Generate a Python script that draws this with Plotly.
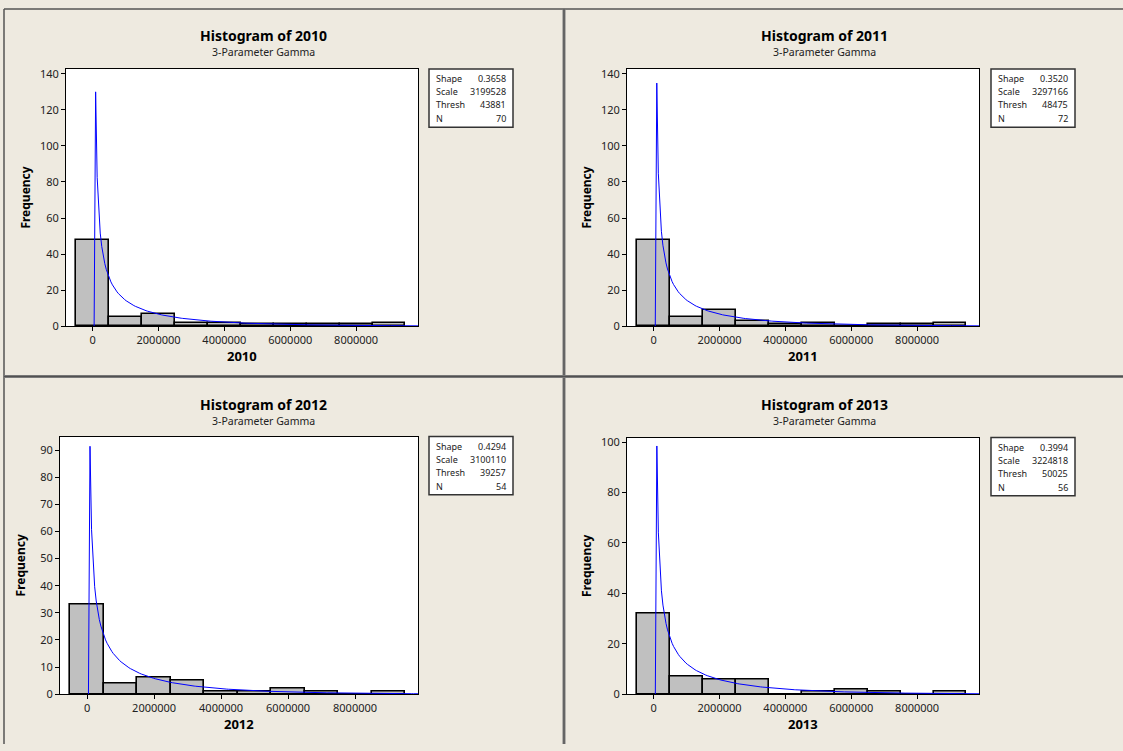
import math
import numpy as np
import plotly.graph_objects as go

W, H = 1123, 751

years = ["2010", "2011", "2012", "2013"]
bin_centers = [0, 1000000, 2000000, 3000000, 4000000, 5000000, 6000000, 7000000, 8000000, 9000000]
bin_width = 1000000
counts_2010 = [48, 5, 7, 2, 2, 1, 1, 1, 1, 2]
counts_2011 = [48, 5, 9, 3, 1, 2, 0, 1, 1, 2]
counts_2012 = [33, 4, 6, 5, 1, 1, 2, 1, 0, 1]
counts_2013 = [32, 7, 6, 6, 0, 1, 2, 1, 0, 1]
counts = [counts_2010, counts_2011, counts_2012, counts_2013]

shape_vals = [0.3658, 0.3520, 0.4294, 0.3994]
scale_vals = [3199528, 3297166, 3100110, 3224818]
thresh_vals = [43881, 48475, 39257, 50025]
n_vals = [70, 72, 54, 56]

y_tick_step = [20, 20, 10, 20]
y_max = [142.6, 142.6, 95.0, 101.8]
x_range = [-810000, 9880000]
x_ticks = [0, 2000000, 4000000, 6000000, 8000000]

# plot-area pixel boxes (left, top, right, bottom)
boxes = [(66, 66, 418, 327), (627, 66, 979, 327), (60, 439, 418, 700.5), (627, 440, 979, 700.5)]
stat_boxes = [(429, 66, 513, 125), (991, 66, 1075, 125), (429, 439, 513, 498), (991, 440, 1075, 499)]
title_xy = [(263, 32), (824, 32), (263, 406), (824, 406)]

BG = "#EEEAE0"
FONT = "Noto Sans"

fig = go.Figure()
shapes = []
annotations = []


def px(x):
    return x / W


def py(y):
    return 1 - y / H


for i, yr in enumerate(years):
    xa = "x" if i == 0 else f"x{i+1}"
    ya = "y" if i == 0 else f"y{i+1}"
    fig.add_trace(go.Bar(
        x=bin_centers, y=counts[i], width=bin_width,
        marker=dict(color="#C0C0C0", line=dict(color="black", width=1.6)),
        xaxis=xa, yaxis=ya, showlegend=False))
    # fitted 3-parameter gamma density scaled to counts
    k, th, t0, n = shape_vals[i], scale_vals[i], thresh_vals[i], n_vals[i]
    xs = np.linspace(t0, x_range[1], 213)
    ys = []
    for xv in xs:
        d = xv - t0
        if d <= 0:
            ys.append(0.0)
        else:
            lp = (k - 1) * math.log(d) - d / th - math.lgamma(k) - k * math.log(th)
            ys.append(n * bin_width * math.exp(lp))
    fig.add_trace(go.Scatter(x=xs, y=ys, mode="lines", line=dict(color="#0000FF", width=1),
                             xaxis=xa, yaxis=ya, showlegend=False, hoverinfo="skip"))

    l, t, r, b = boxes[i]
    axkey = "xaxis" if i == 0 else f"xaxis{i+1}"
    aykey = "yaxis" if i == 0 else f"yaxis{i+1}"
    fig.update_layout(**{
        axkey: dict(domain=[px(l), px(r)], anchor=ya, range=x_range,
                    tickvals=x_ticks, ticktext=[str(v) for v in x_ticks],
                    showgrid=False, zeroline=False, showline=True, linecolor="black",
                    linewidth=1, mirror=True, ticks="outside", ticklen=4, tickcolor="black",
                    tickfont=dict(family=FONT, size=11, color="#222")),
        aykey: dict(domain=[py(b), py(t)], anchor=xa, range=[0, y_max[i]],
                    dtick=y_tick_step[i], tick0=0,
                    showgrid=False, zeroline=False, showline=True, linecolor="black",
                    linewidth=1, mirror=True, ticks="outside", ticklen=4, tickcolor="black",
                    tickfont=dict(family=FONT, size=11, color="#222")),
    })

    tx, ty = title_xy[i]
    annotations.append(dict(x=px(tx), y=py(ty), xref="paper", yref="paper", text="<b>Histogram of " + yr + "</b>",
                            showarrow=False, font=dict(family=FONT, size=14, color="black"),
                            xanchor="center", yanchor="middle"))
    annotations.append(dict(x=px(tx), y=py(ty + 17), xref="paper", yref="paper", text="3-Parameter Gamma",
                            showarrow=False, font=dict(family=FONT, size=10.5, color="#222"),
                            xanchor="center", yanchor="middle"))
    annotations.append(dict(x=px((l + r) / 2), y=py(b + 30), xref="paper", yref="paper", text="<b>" + yr + "</b>",
                            showarrow=False, font=dict(family=FONT, size=13, color="black"),
                            xanchor="center", yanchor="middle"))
    annotations.append(dict(x=px(l - 40), y=py((t + b) / 2), xref="paper", yref="paper", text="<b>Frequency</b>",
                            showarrow=False, textangle=-90, font=dict(family=FONT, size=12, color="black"),
                            xanchor="center", yanchor="middle"))

    sl, st, sr, sb = stat_boxes[i]
    shapes.append(dict(type="rect", xref="paper", yref="paper", x0=px(sl), x1=px(sr), y0=py(sb), y1=py(st),
                       fillcolor="white", line=dict(color="#333", width=1.5), layer="above"))
    labels = ["Shape", "Scale", "Thresh", "N"]
    vals = [f"{shape_vals[i]:.4f}", str(scale_vals[i]), str(thresh_vals[i]), str(n_vals[i])]
    row_off = [10, 23, 36.5, 50.5]
    for lab, val, ro in zip(labels, vals, row_off):
        annotations.append(dict(x=px(sl + 5), y=py(st + ro), xref="paper", yref="paper", text=lab,
                                showarrow=False, font=dict(family=FONT, size=9, color="#222"),
                                xanchor="left", yanchor="middle"))
        annotations.append(dict(x=px(sr - 5), y=py(st + ro), xref="paper", yref="paper", text=val,
                                showarrow=False, font=dict(family=FONT, size=9, color="#222"),
                                xanchor="right", yanchor="middle"))

# panel borders / separators
shapes += [
    dict(type="line", xref="paper", yref="paper", x0=px(4), x1=1, y0=py(5), y1=py(5),
         line=dict(color="#555", width=1.5)),
    dict(type="line", xref="paper", yref="paper", x0=px(4), x1=px(4), y0=py(5), y1=0,
         line=dict(color="#555", width=1.5)),
    dict(type="line", xref="paper", yref="paper", x0=px(564), x1=px(564), y0=py(5), y1=0,
         line=dict(color="#7a7a7a", width=3)),
    dict(type="line", xref="paper", yref="paper", x0=px(564), x1=px(564), y0=py(5), y1=0,
         line=dict(color="#505050", width=1)),
    dict(type="line", xref="paper", yref="paper", x0=px(4), x1=1, y0=py(378), y1=py(378),
         line=dict(color="#7a7a7a", width=3)),
    dict(type="line", xref="paper", yref="paper", x0=px(4), x1=1, y0=py(378), y1=py(378),
         line=dict(color="#505050", width=1)),
]

fig.update_layout(width=W, height=H, margin=dict(l=0, r=0, t=0, b=0),
                  paper_bgcolor=BG, plot_bgcolor="white", bargap=0, barmode="overlay",
                  shapes=shapes, annotations=annotations, showlegend=False)

fig.write_html("out.html", config={"displayModeBar": False},
               post_script="document.body.style.margin='0px';document.body.style.overflow='hidden';")
